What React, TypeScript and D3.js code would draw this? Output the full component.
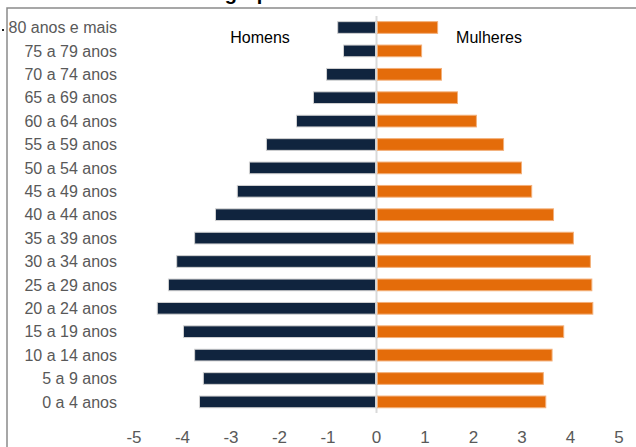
import { scaleBand, scaleLinear, select } from "d3";
import { useEffect, useRef } from "react";

const ageGroups = [
  "80 anos e mais",
  "75 a 79 anos",
  "70 a 74 anos",
  "65 a 69 anos",
  "60 a 64 anos",
  "55 a 59 anos",
  "50 a 54 anos",
  "45 a 49 anos",
  "40 a 44 anos",
  "35 a 39 anos",
  "30 a 34 anos",
  "25 a 29 anos",
  "20 a 24 anos",
  "15 a 19 anos",
  "10 a 14 anos",
  "5 a 9 anos",
  "0 a 4 anos",
];

// % of population (men drawn on the negative side)
const homens = [0.8, 0.68, 1.03, 1.3, 1.65, 2.27, 2.62, 2.87, 3.32, 3.75, 4.12, 4.29, 4.52, 3.98, 3.75, 3.57, 3.65];
const mulheres = [1.26, 0.93, 1.34, 1.67, 2.06, 2.62, 2.99, 3.2, 3.65, 4.06, 4.41, 4.44, 4.46, 3.86, 3.62, 3.44, 3.49];

const xTicks = [-5, -4, -3, -2, -1, 0, 1, 2, 3, 4, 5];

const WIDTH = 636;
const HEIGHT = 447;

const App = () => {
  const svgRef = useRef<SVGSVGElement>(null);

  useEffect(() => {
    const svg = select(svgRef.current);
    svg.selectAll("*").remove();

    const font = "'Liberation Sans', Arial, sans-serif";

    // scales
    const xScale = scaleLinear().domain([-5, 5]).range([134, 619]);
    const yScale = scaleBand<string>()
      .domain(ageGroups)
      .range([15.8, 413.6])
      .paddingInner(0.5)
      .paddingOuter(0.25);

    // title, cut off at the top edge like in the source image
    svg
      .append("text")
      .attr("x", 59)
      .attr("y", 0)
      .attr("font-family", font)
      .attr("font-weight", "bold")
      .attr("font-size", 20)
      .attr("fill", "#000")
      .text("Pirâmide etária – grupos de idade");

    // frame
    svg
      .append("path")
      .attr("d", `M7,${HEIGHT} V8 H${WIDTH}`)
      .attr("fill", "none")
      .attr("stroke", "#8a8a8a")
      .attr("stroke-width", 1.5);

    svg.append("rect").attr("x", 2).attr("y", 29).attr("width", 2).attr("height", 2).attr("fill", "#222");

    // zero line
    svg
      .append("line")
      .attr("x1", xScale(0))
      .attr("x2", xScale(0))
      .attr("y1", 16)
      .attr("y2", 413)
      .attr("stroke", "#d9d9d9")
      .attr("stroke-width", 2);

    // men bars
    svg
      .selectAll(".bar-h")
      .data(homens)
      .join("rect")
      .attr("class", "bar-h")
      .attr("x", (d) => xScale(-d))
      .attr("y", (d, i) => yScale(ageGroups[i]))
      .attr("width", (d) => xScale(0) - 1 - xScale(-d))
      .attr("height", yScale.bandwidth())
      .attr("fill", "#10243e")
      .attr("stroke", "#d2d2d2")
      .attr("stroke-width", 1);

    // women bars
    svg
      .selectAll(".bar-m")
      .data(mulheres)
      .join("rect")
      .attr("class", "bar-m")
      .attr("x", xScale(0) + 1)
      .attr("y", (d, i) => yScale(ageGroups[i]))
      .attr("width", (d) => xScale(d) - xScale(0) - 1)
      .attr("height", yScale.bandwidth())
      .attr("fill", "#e46c0a")
      .attr("stroke", "#f3b07a")
      .attr("stroke-width", 1);

    // category labels
    svg
      .selectAll(".label")
      .data(ageGroups)
      .join("text")
      .attr("class", "label")
      .attr("x", 117)
      .attr("y", (d) => yScale(d) + yScale.bandwidth() / 2)
      .attr("dy", "0.35em")
      .attr("text-anchor", "end")
      .attr("font-family", font)
      .attr("font-size", 16)
      .attr("fill", "#595959")
      .text((d) => d);

    // x tick labels
    svg
      .selectAll(".tick")
      .data(xTicks)
      .join("text")
      .attr("class", "tick")
      .attr("x", (d) => xScale(d))
      .attr("y", 443)
      .attr("text-anchor", "middle")
      .attr("font-family", font)
      .attr("font-size", 17)
      .attr("fill", "#595959")
      .text((d) => String(d));

    // series labels
    svg
      .append("text")
      .attr("x", 260)
      .attr("y", 43)
      .attr("text-anchor", "middle")
      .attr("font-family", font)
      .attr("font-size", 16)
      .attr("fill", "#000")
      .text("Homens");

    svg
      .append("text")
      .attr("x", 489)
      .attr("y", 43)
      .attr("text-anchor", "middle")
      .attr("font-family", font)
      .attr("font-size", 16)
      .attr("fill", "#000")
      .text("Mulheres");
  }, []);

  return (
    <div style={{ position: "absolute", top: 0, left: 0, width: WIDTH, height: HEIGHT, background: "#fff" }}>
      <svg ref={svgRef} width={WIDTH} height={HEIGHT} style={{ overflow: "hidden", display: "block" }}></svg>
    </div>
  );
};

export default App;
